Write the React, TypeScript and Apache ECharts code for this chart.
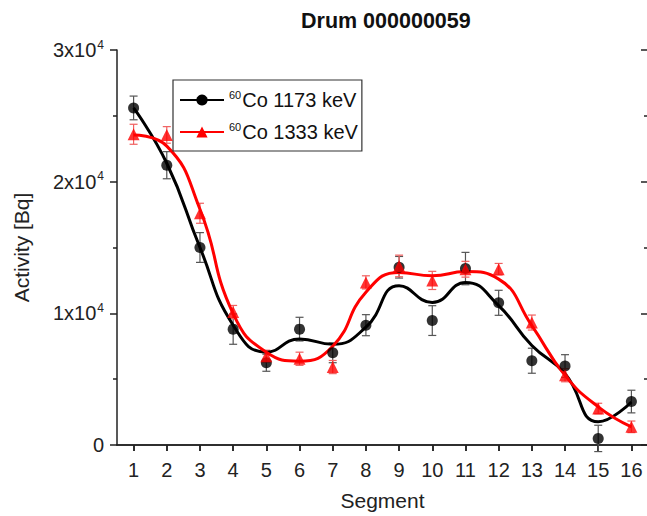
import React, { useEffect, useRef } from "react";
import * as echarts from "echarts";

const segments = ["1","2","3","4","5","6","7","8","9","10","11","12","13","14","15","16"];

// 60Co 1173 keV measured points and errors
const co1173 = [25600, 21250, 15000, 8800, 6250, 8800, 7000, 9100, 13500, 9450, 13400, 10800, 6400, 6000, 500, 3300];
const co1173Err = [900, 1030, 1130, 1150, 650, 900, 750, 800, 820, 1130, 1230, 950, 950, 860, 1000, 860];
// smoothed curve read at each segment
const co1173Fit = [25600, 21400, 15000, 9100, 7050, 8050, 7650, 8950, 12100, 10830, 12350, 10580, 7560, 5420, 1760, 3270];

// 60Co 1333 keV measured points and errors
const co1333 = [23600, 23550, 17600, 10100, 6750, 6550, 5920, 12350, 13600, 12500, 13350, 13350, 9300, 5300, 2770, 1380];
const co1333Err = [760, 630, 760, 500, 450, 500, 500, 500, 820, 690, 600, 440, 570, 500, 400, 440];
const co1333Fit = [23550, 22700, 17900, 9970, 7050, 6370, 7500, 11600, 13100, 12850, 13170, 12600, 9070, 5290, 2900, 1380];

const yTicks = [0, 10000, 20000, 30000];

const BLACK = "#000000";
const RED = "#ff0000";

function errData(vals: number[], errs: number[]) {
  return vals.map((v, i) => [i, v, errs[i]]);
}

function makeErrRender(color: string) {
  return (params: any, api: any) => {
    const x = api.value(0);
    const v = api.value(1);
    const e = api.value(2);
    const top = api.coord([x, v + e]);
    const bot = api.coord([x, v - e]);
    const h = 4;
    const style = { stroke: color, lineWidth: 1.2 };
    return {
      type: "group",
      children: [
        { type: "line", shape: { x1: top[0], y1: top[1], x2: bot[0], y2: bot[1] }, style },
        { type: "line", shape: { x1: top[0] - h, y1: top[1], x2: top[0] + h, y2: top[1] }, style },
        { type: "line", shape: { x1: bot[0] - h, y1: bot[1], x2: bot[0] + h, y2: bot[1] }, style },
      ],
    };
  };
}

const FONT = "Liberation Sans, Arial, sans-serif";

export default function App() {
  const ref = useRef<HTMLDivElement>(null);
  useEffect(() => {
    if (!ref.current) return;
    const chart = echarts.init(ref.current, undefined, { renderer: "svg" });
    const axisLine = { show: true, lineStyle: { color: "#222", width: 1.5 } };
    chart.setOption({
      animation: false,
      backgroundColor: "#fff",
      textStyle: { fontFamily: FONT },
      title: {
        text: "Drum 000000059",
        left: 296,
        top: 5,
        textStyle: { fontFamily: FONT, fontWeight: "bold", fontSize: 21.5, color: "#111" },
      },
      legend: {
        data: ["a", "b"],
        orient: "vertical",
        left: 173,
        top: 80,
        itemWidth: 44,
        itemHeight: 14,
        itemGap: 11,
        padding: [9, 4, 9, 6],
        borderColor: "#333",
        borderWidth: 1.2,
        backgroundColor: "#fff",
        formatter: (name: string) =>
          name === "a" ? "{s|60}{t|Co 1173 keV}" : "{s|60}{t|Co 1333 keV}",
        textStyle: {
          fontFamily: FONT,
          color: "#111",
          rich: {
            s: { fontSize: 11, fontFamily: FONT, color: "#111", verticalAlign: "top", padding: [0, 1, 11, 0] },
            t: { fontSize: 20, fontFamily: FONT, color: "#111" },
          },
        },
      },
      grid: { left: 117, right: 12, top: 50, bottom: 71, containLabel: false, outerBoundsMode: "none" },
      xAxis: [
        {
          type: "category",
          data: segments,
          boundaryGap: true,
          position: "bottom",
          axisLine,
          axisTick: { show: true, alignWithLabel: true, length: 6, lineStyle: { color: "#222", width: 1.5 } },
          axisLabel: { fontSize: 20, color: "#222", margin: 15, fontFamily: FONT, interval: 0 },
          splitLine: { show: false },
          name: "Segment",
          nameLocation: "middle",
          nameGap: 45,
          nameTextStyle: { fontSize: 21, lineHeight: 21, color: "#222", fontFamily: FONT },
        },
        {
          type: "category",
          data: segments,
          boundaryGap: true,
          position: "top",
          axisLine,
          axisTick: { show: true, inside: true, alignWithLabel: true, length: 6, lineStyle: { color: "#222", width: 1.5 } },
          axisLabel: { show: false },
          splitLine: { show: false },
        },
      ],
      yAxis: [
        {
          type: "value",
          min: 0,
          max: 30000,
          interval: 10000,
          position: "left",
          axisLine,
          axisTick: { show: true, length: 7, lineStyle: { color: "#222", width: 1.5 } },
          minorTick: { show: true, splitNumber: 2, length: 4, lineStyle: { color: "#222", width: 1.5 } },
          splitLine: { show: false },
          axisLabel: {
            margin: 13,
            color: "#222",
            fontFamily: FONT,
            formatter: (v: number) => {
              if (!yTicks.includes(v)) return "";
              return v === 0 ? "{b|0}" : `{b|${v / 10000}x10}{s|4}`;
            },
            rich: {
              b: { fontSize: 20, fontFamily: FONT, color: "#222" },
              s: { fontSize: 12, fontFamily: FONT, color: "#222", verticalAlign: "top", padding: [0, 0, 11, 1] },
            },
          },
          name: "Activity [Bq]",
          nameLocation: "middle",
          nameGap: 85,
          nameTextStyle: { fontSize: 21, color: "#222", fontFamily: FONT },
        },
        {
          type: "value",
          min: 0,
          max: 30000,
          interval: 10000,
          position: "right",
          axisLine,
          axisTick: { show: true, inside: true, length: 7, lineStyle: { color: "#222", width: 1.5 } },
          minorTick: { show: true, splitNumber: 2, length: 4, lineStyle: { color: "#222", width: 1.5 } },
          splitLine: { show: false },
          axisLabel: { show: false },
        },
      ],
      series: [
        {
          type: "custom",
          name: "err1173",
          renderItem: makeErrRender("#555555"),
          data: errData(co1173, co1173Err),
          encode: { x: 0, y: 1 },
          z: 2,
        },
        {
          type: "custom",
          name: "err1333",
          renderItem: makeErrRender("#f06060"),
          data: errData(co1333, co1333Err),
          encode: { x: 0, y: 1 },
          z: 2,
        },
        {
          type: "line",
          name: "a",
          data: co1173Fit,
          smooth: 0.5,
          symbol: "circle",
          showSymbol: false,
          lineStyle: { color: BLACK, width: 3 },
          itemStyle: { color: BLACK },
          z: 3,
        },
        {
          type: "line",
          name: "b",
          data: co1333Fit,
          smooth: 0.5,
          symbol: "triangle",
          showSymbol: false,
          lineStyle: { color: RED, width: 3 },
          itemStyle: { color: RED },
          z: 3,
        },
        {
          type: "scatter",
          name: "p1173",
          data: co1173,
          symbol: "circle",
          symbolSize: 11,
          itemStyle: { color: BLACK },
          z: 4,
        },
        {
          type: "scatter",
          name: "p1333",
          data: co1333,
          symbol: "triangle",
          symbolSize: 12,
          itemStyle: { color: RED },
          z: 4,
        },
      ],
    });
    return () => chart.dispose();
  }, []);
  return (
    <div style={{ position: "fixed", left: 0, top: 0, width: 647, height: 516, overflow: "hidden", background: "#fff" }}>
      <div ref={ref} style={{ position: "absolute", left: 0, top: 0, width: 660, height: 516 }} />
    </div>
  );
}
